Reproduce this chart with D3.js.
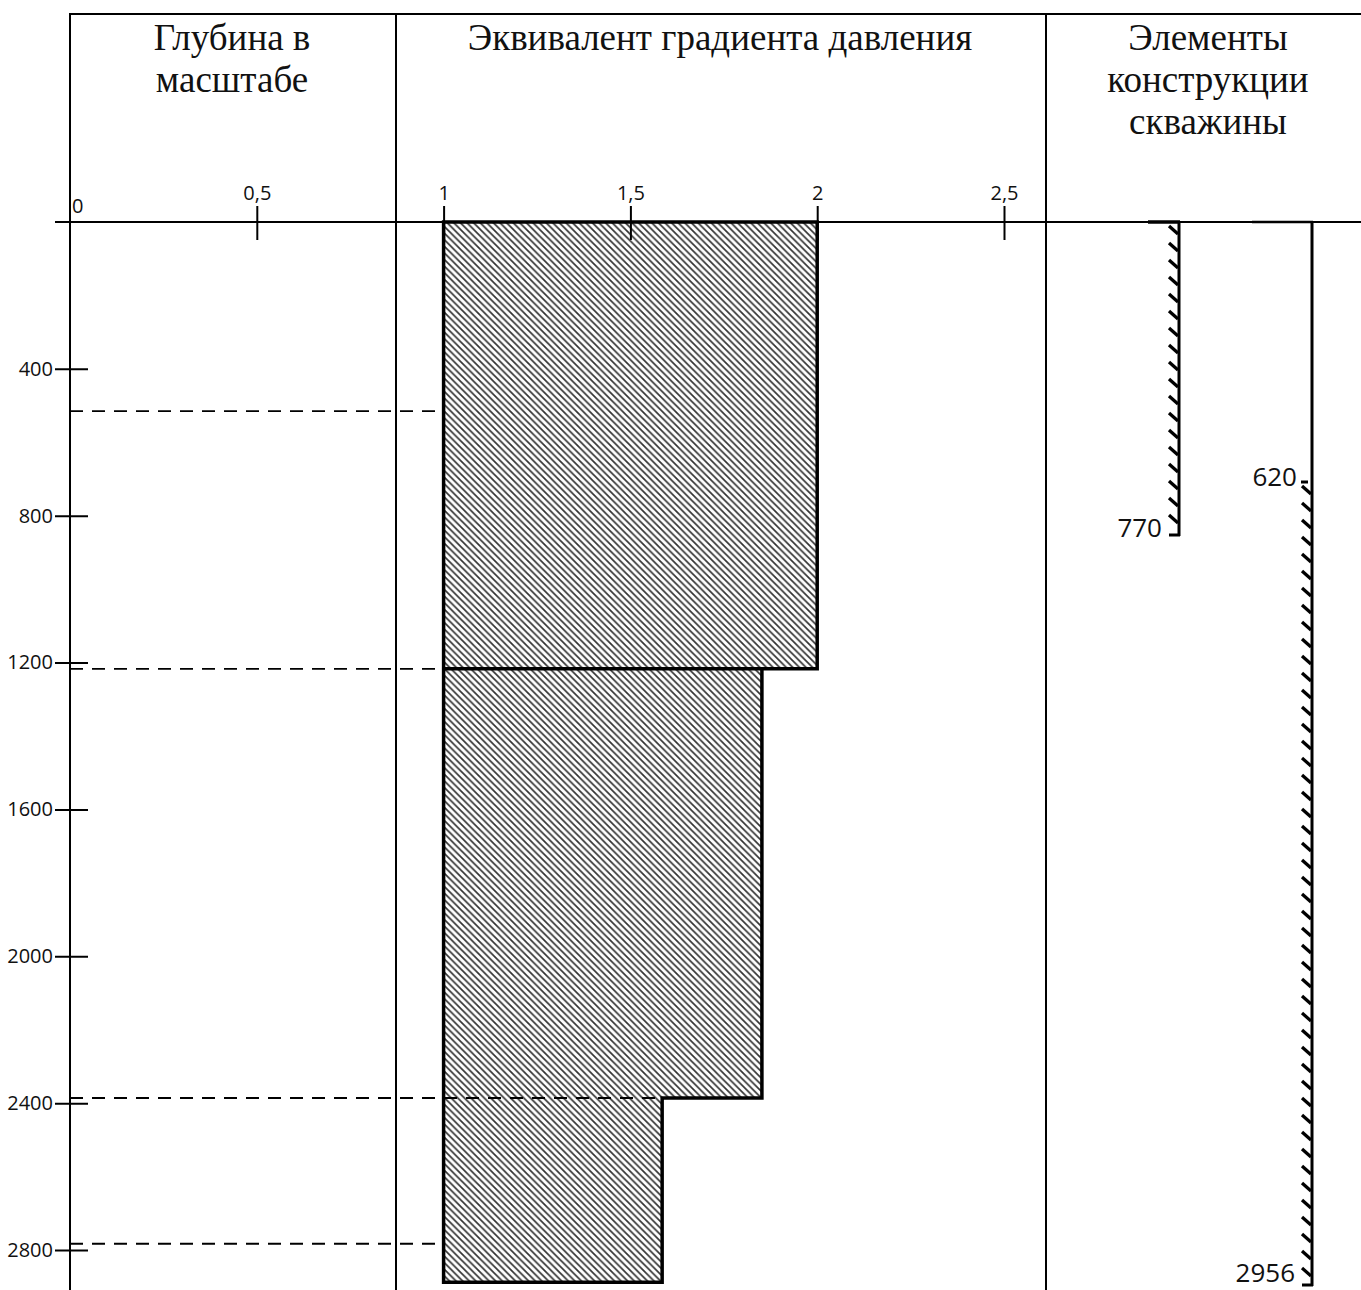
<!DOCTYPE html>
<html>
<head>
<meta charset="utf-8">
<script src="https://cdn.jsdelivr.net/npm/d3@7"></script>
<style>
	body { margin: 0; background: #fff; }
	.head { font-family: "Liberation Serif", "Times New Roman", serif; font-size: 37px; fill: #111; }
	.num { font-family: "Open Sans", sans-serif; font-size: 20px; fill: #111; }
	.axis path.domain { display: none; }
</style>
</head>
<body>
<script>
(function(){

	//data
	var gradTicks = [0.5, 1, 1.5, 2, 2.5]; //pressure gradient equivalent ticks
	var depthTicks = [400, 800, 1200, 1600, 2000, 2400, 2800]; //depth ticks, m
	var intervalTop = [0, 1217, 2386]; //interval tops, m
	var intervalBottom = [1217, 2386, 2888]; //interval bottoms, m
	var gradMin = [1, 1, 1];
	var gradMax = [2.0, 1.852, 1.585];
	var dashDepths = [515, 1217, 2386, 2783]; //dashed marker depths
	var dashEnd = [1, 1, 1.585, 1]; //dashed line end, gradient units
	var casingTop = [0, 620];
	var casingShoe = [770, 2956];
	var casingNames = ["770", "2956"];
	var headLines = [
		["Глубина в", "масштабе"],
		["Эквивалент градиента давления"],
		["Элементы", "конструкции", "скважины"]
	];

	var width = 1361, height = 1290;
	var topY = 14, axisY = 222;
	var colX = [70, 396, 1046]; //column borders
	var headX = [232, 720, 1208];

	var x = d3.scaleLinear().domain([0, 2.5]).range([70, 1004]);
	var y = d3.scaleLinear().domain([0, 2800]).range([axisY, 1250]);
	//well schematic is not drawn to scale
	var yWell = d3.scaleLinear()
		.domain([0, 620, 770, 2956])
		.range([axisY, 482, 535, 1285]);

	var svg = d3.select("body")
		.append("svg")
		.attr("width", width)
		.attr("height", height);

	//hatch pattern
	var pat = svg.append("defs").append("pattern")
		.attr("id", "hatch")
		.attr("patternUnits", "userSpaceOnUse")
		.attr("width", 6.6)
		.attr("height", 6.6);
	pat.append("path")
		.attr("d", "M0,0L6.6,6.6M-1,5.6L1,7.6M5.6,-1L7.6,1")
		.attr("stroke", "#333")
		.attr("stroke-width", 1.7);

	//headers
	headLines.forEach(function(lines, i){
		svg.selectAll(".h" + i)
			.data(lines)
			.enter()
			.append("text")
			.attr("class", "head")
			.attr("x", headX[i])
			.attr("y", function(d, j){ return 50 + j * 42; })
			.attr("text-anchor", "middle")
			.text(function(d){ return d; });
	});

	//frame lines
	svg.append("line")
		.attr("x1", colX[0]).attr("x2", width)
		.attr("y1", topY).attr("y2", topY)
		.attr("stroke", "#000").attr("stroke-width", 2);
	svg.selectAll(".col")
		.data(colX)
		.enter()
		.append("line")
		.attr("x1", function(d){ return d; })
		.attr("x2", function(d){ return d; })
		.attr("y1", topY - 1)
		.attr("y2", height)
		.attr("stroke", "#000")
		.attr("stroke-width", 2);
	svg.append("line")
		.attr("x1", 55).attr("x2", width)
		.attr("y1", axisY).attr("y2", axisY)
		.attr("stroke", "#000").attr("stroke-width", 2);

	//hatched intervals
	svg.selectAll(".block")
		.data(intervalTop)
		.enter()
		.append("rect")
		.attr("x", function(d, i){ return x(gradMin[i]); })
		.attr("y", function(d){ return y(d); })
		.attr("width", function(d, i){ return x(gradMax[i]) - x(gradMin[i]); })
		.attr("height", function(d, i){ return y(intervalBottom[i]) - y(d); })
		.attr("fill", "url(#hatch)");

	//step outline
	var pts = [[x(gradMin[0]), y(intervalTop[0])]];
	intervalTop.forEach(function(t, i){
		pts.push([x(gradMax[i]), y(t)]);
		pts.push([x(gradMax[i]), y(intervalBottom[i])]);
	});
	pts.push([x(gradMin[0]), y(intervalBottom[intervalBottom.length - 1])]);
	svg.append("path")
		.attr("d", d3.line()(pts) + "Z")
		.attr("fill", "none")
		.attr("stroke", "#000")
		.attr("stroke-width", 3.5)
		.attr("stroke-linejoin", "miter");
	svg.append("line")
		.attr("x1", x(gradMin[0])).attr("x2", x(gradMax[1]))
		.attr("y1", y(intervalBottom[0])).attr("y2", y(intervalBottom[0]))
		.attr("stroke", "#000").attr("stroke-width", 3.5);

	//dashed depth markers
	svg.selectAll(".dash")
		.data(dashDepths)
		.enter()
		.append("line")
		.attr("x1", colX[0])
		.attr("x2", function(d, i){ return x(dashEnd[i]) - 4; })
		.attr("y1", function(d){ return y(d); })
		.attr("y2", function(d){ return y(d); })
		.attr("stroke", "#000")
		.attr("stroke-width", 1.8)
		.attr("stroke-dasharray", "13,9");

	//gradient axis
	var xAxis = svg.append("g")
		.attr("class", "axis num")
		.attr("transform", "translate(0," + axisY + ")")
		.call(d3.axisTop(x)
			.tickValues(gradTicks)
			.tickSize(16)
			.tickPadding(6)
			.tickFormat(function(d){ return String(d).replace(".", ","); }));
	xAxis.selectAll(".tick line")
		.attr("y2", -16)
		.attr("y1", 18)
		.attr("stroke-width", 2);
	xAxis.selectAll(".tick text")
		.attr("font-family", "Open Sans")
		.attr("font-size", 20)
		.attr("fill", "#111");
	svg.append("text")
		.attr("class", "num")
		.attr("x", x(0) + 2)
		.attr("y", 213)
		.text("0");

	//depth axis
	var yAxis = svg.append("g")
		.attr("class", "axis")
		.attr("transform", "translate(88,0)")
		.call(d3.axisLeft(y)
			.tickValues(depthTicks)
			.tickSize(33)
			.tickPadding(2)
			.tickFormat(d3.format("d")));
	yAxis.selectAll(".tick line").attr("stroke-width", 2);
	yAxis.selectAll(".tick text")
		.attr("font-family", "Open Sans")
		.attr("font-size", 20)
		.attr("fill", "#111");

	//well construction elements
	var casingX = [1179, 1312];
	var capLeft = [1148, 1252];
	casingTop.forEach(function(t, i){
		var cx = casingX[i];
		var g = svg.append("g");
		//top cap
		g.append("line")
			.attr("x1", capLeft[i]).attr("x2", cx + 1)
			.attr("y1", yWell(0)).attr("y2", yWell(0))
			.attr("stroke", "#000").attr("stroke-width", i == 0 ? 3.5 : 2.5);
		//pipe
		g.append("line")
			.attr("x1", cx).attr("x2", cx)
			.attr("y1", yWell(0)).attr("y2", yWell(casingShoe[i]) + 1)
			.attr("stroke", "#000").attr("stroke-width", 3);
		//cemented part hatching
		var y0 = yWell(t) + 4, y1 = yWell(casingShoe[i]);
		var marks = d3.range(y0, y1 - 6, 17);
		g.selectAll(".mark")
			.data(marks)
			.enter()
			.append("line")
			.attr("x1", cx - 10)
			.attr("x2", cx - 1)
			.attr("y1", function(d){ return d; })
			.attr("y2", function(d){ return d + 8; })
			.attr("stroke", "#000")
			.attr("stroke-width", 3.2);
		//shoe foot
		g.append("line")
			.attr("x1", cx - 10).attr("x2", cx + 1)
			.attr("y1", y1).attr("y2", y1)
			.attr("stroke", "#000").attr("stroke-width", 3);
		if (t > 0) {
			g.append("line")
				.attr("x1", cx - 11).attr("x2", cx - 4)
				.attr("y1", yWell(t)).attr("y2", yWell(t))
				.attr("stroke", "#000").attr("stroke-width", 3);
		}
		//shoe label
		g.append("text")
			.attr("class", "num")
			.attr("style", "font-size:26px")
			.attr("x", cx - 17)
			.attr("y", y1 - (i == 0 ? -2 : 3))
			.attr("text-anchor", "end")
			.text(casingNames[i]);
	});
	//top of second casing cement
	svg.append("text")
		.attr("class", "num")
		.attr("style", "font-size:26px")
		.attr("x", casingX[1] - 15)
		.attr("y", yWell(casingTop[1]) + 4)
		.attr("text-anchor", "end")
		.text(String(casingTop[1]));

})();
</script>
</body>
</html>
